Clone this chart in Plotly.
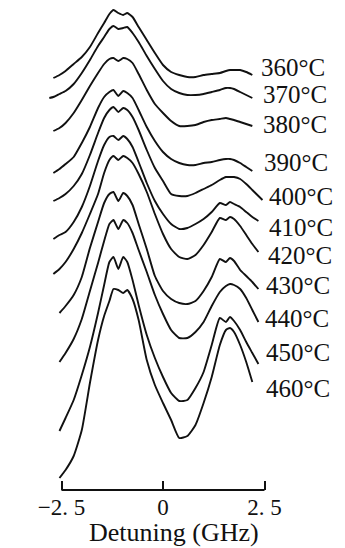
import plotly.graph_objects as go

# Detuning grid (GHz)
DETUNING = [-2.8, -2.7, -2.55, -2.4, -2.2, -2.0, -1.8, -1.6, -1.45, -1.32, -1.22, -1.1,
            -0.98, -0.88, -0.75, -0.6, -0.4, -0.2, 0.0, 0.2, 0.4, 0.6, 0.8, 1.0, 1.2,
            1.4, 1.55, 1.65, 1.75, 1.9, 2.05, 2.2, 2.35, 2.45]

TEMPERATURES = ["360°C", "370°C", "380°C", "390°C", "400°C", "410°C",
                "420°C", "430°C", "440°C", "450°C", "460°C"]

# Stacked absorption signals (arbitrary units, offset included)
S360 = [None, 412, 415, 419, 426, 433, 443, 457, 467, 476, 480, 477, 475, 477, 473, 463, 450,
        437, 425, 418, 415, 413, 413, 415, 416, 417, 419, 420, 420, 420, 418, 415, None, None]
S370 = [392, 393, 396, 399, 406, 417, 430, 444, 453, 461, 464, 461, 462, 463, 457, 448, 434,
        421, 409, 401, 397, 395, 395, 396, 398, 400, 402, 402, 401, 398, 395, 392, None, None]
S380 = [None, 359, 362, 367, 377, 390, 404, 417, 426, 431, 432, 429, 432, 431, 427, 416, 400,
        386, 377, 369, 364, 364, 365, 368, 370, 371, 372, 371, 370, 368, 366, 364, None, None]
S390 = [None, 317, 321, 326, 333, 347, 363, 382, 393, 398, 400, 394, 399, 397, 392, 380, 363,
        349, 338, 331, 327, 325, 325, 327, 328, 330, 331, 331, 330, 327, 323, 319, None, None]
S400 = [None, 289, 292, 296, 304, 316, 335, 357, 372, 380, 383, 378, 382, 380, 373, 360, 340,
        322, 309, 296, 294, 294, 297, 301, 305, 310, 313, 313, 313, 311, 306, 300, 294, 290]
S410 = [None, 251, 255, 258, 268, 283, 304, 329, 345, 353, 354, 350, 354, 351, 343, 328, 307,
        289, 276, 266, 261, 262, 266, 271, 278, 287, 285, 288, 286, 283, 278, 273, 269, None]
S420 = [None, 216, 221, 228, 241, 257, 276, 296, 317, 330, 334, 330, 334, 332, 327, 316, 298,
        276, 256, 241, 233, 231, 235, 245, 258, 272, 270, 273, 271, 264, 255, 246, 238, None]
S430 = [None, None, 177, 184, 195, 213, 242, 268, 287, 296, 298, 289, 297, 294, 285, 266, 241,
        214, 199, 191, 187, 186, 189, 199, 213, 231, 228, 232, 229, 220, 214, 208, 201, None]
S440 = [None, None, 128, 137, 151, 171, 199, 227, 249, 266, 270, 261, 270, 267, 257, 240, 218,
        195, 176, 160, 152, 152, 158, 168, 184, 198, 204, 206, 205, 201, 192, 180, 168, None]
S450 = [None, None, 59, 72, 90, 115, 143, 177, 205, 228, 233, 221, 233, 228, 210, 185, 155,
        132, 113, 97, 89, 90, 102, 118, 145, 172, 168, 173, 169, 160, 148, 137, 126, None]
S460 = [None, None, 12, 20, 34, 60, 107, 150, 174, 189, 201, 200, 197, 200, 191, 170, 130,
        105, 87, 70, 52, 54, 65, 87, 113, 145, 160, 162, 158, 145, 128, 108, None, None]

SERIES = [S360, S370, S380, S390, S400, S410, S420, S430, S440, S450, S460]

TICK_VALS = [-2.5, 0, 2.5]
TICK_TEXT = ["−2. 5", "0", "2. 5"]
X_TITLE = "Detuning (GHz)"

# label placement (layout only)
LABEL_X = [2.39, 2.44, 2.44, 2.46, 2.59, 2.59, 2.56, 2.51, 2.49, 2.51, 2.51]
LABEL_Y = [423, 396, 366, 328, 294, 263, 235, 205, 172, 138, 102]

SERIF = "Liberation Serif"

fig = go.Figure()
for name, ys in zip(TEMPERATURES, SERIES):
    fig.add_trace(go.Scatter(
        x=DETUNING, y=ys, mode="lines", name=name,
        line=dict(color="#111111", width=1.9, shape="spline", smoothing=0.5),
        connectgaps=False, showlegend=False, hoverinfo="skip"))

for t, lx, ly in zip(TEMPERATURES, LABEL_X, LABEL_Y):
    fig.add_annotation(x=lx, y=ly, xref="x", yref="y", text=t, showarrow=False,
                       xanchor="left", yanchor="middle", borderpad=0,
                       font=dict(family=SERIF, size=25, color="#111111"))

fig.add_annotation(x=0.27, y=-0.089, xref="x", yref="paper", text=X_TITLE,
                   showarrow=False, xanchor="center", yanchor="middle", borderpad=0,
                   font=dict(family=SERIF, size=26, color="#111111"))

# axis baseline spanning only the labelled detuning range
fig.add_shape(type="line", xref="x", yref="paper", x0=TICK_VALS[0], x1=TICK_VALS[-1],
              y0=0, y1=0, line=dict(color="#111111", width=2), layer="above")

# page body has an 8px default margin, so the figure is 8px smaller each way
fig.update_layout(
    width=337, height=540,
    margin=dict(l=40, r=75, t=0, b=58),
    paper_bgcolor="white", plot_bgcolor="white",
    xaxis=dict(range=[-2.8325, 2.6355], showgrid=False, zeroline=False, showline=False,
               tickvals=TICK_VALS, ticktext=TICK_TEXT, ticks="inside", ticklen=9,
               tickwidth=2, tickcolor="#111111", ticklabelstandoff=1,
               tickfont=dict(family=SERIF, size=23, color="#111111")),
    yaxis=dict(range=[0, 482], visible=False, showgrid=False, zeroline=False),
)

fig.write_html("out.html")
